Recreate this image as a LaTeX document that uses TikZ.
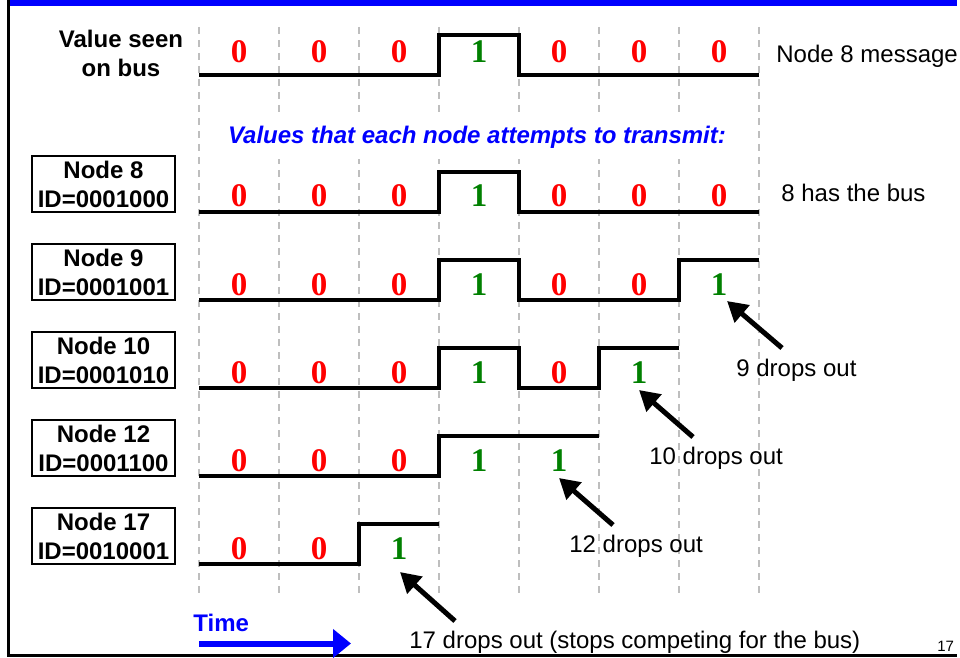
\documentclass[tikz,border=0pt]{standalone}
\usepackage{fontspec}
\setmainfont{Liberation Sans}
\newfontfamily\bitfont{Liberation Serif}
\usepackage{tikz}
\usetikzlibrary{positioning,arrows.meta}
\definecolor{bitgreen}{RGB}{0,128,0}
\definecolor{slotgray}{RGB}{190,190,190}

\tikzset{
  bitzero/.style={anchor=base, inner sep=0pt, text=red, font=\bitfont\bfseries\fontsize{16.5}{18}\selectfont},
  bitone/.style={bitzero, text=bitgreen},
  idbox/.style={draw, line width=1.3pt, minimum width=71.5pt, minimum height=28pt, inner sep=0pt, align=center, font=\bfseries\fontsize{12}{14.5}\selectfont},
  wave/.style={line width=1.8pt},
  slot/.style={slotgray, line width=1.3pt, dash pattern=on 3.5pt off 3pt},
  note/.style={anchor=base west, inner sep=0pt, font=\fontsize{12}{14.5}\selectfont},
  drop/.style={->, line width=2.5pt}
}

\begin{document}
\begin{tikzpicture}[x=0.5pt, y=-0.5pt, >={Triangle[length=10pt,width=11pt]}, node distance=14.7pt]
  \useasboundingbox (0,0) rectangle (960,658);
  \fill[blue] (9,0) rectangle (957,6);
  \draw[line width=1.3pt] (8.7,0) -- (8.7,655.5) -- (957,655.5);

  % bit slots
  \draw[slot] (199,27) -- (199,595);
  \draw[slot] (279,27) -- (279,595);
  \draw[slot] (359,27) -- (359,595);
  \draw[slot] (439,27) -- (439,595);
  \draw[slot] (519,27) -- (519,595);
  \draw[slot] (599,27) -- (599,595);
  \draw[slot] (679,27) -- (679,595);
  \draw[slot] (759,27) -- (759,595);

  % the bus
  \node[align=center, inner sep=0pt, font=\bfseries\fontsize{12}{14.5}\selectfont] (bus) at (121,53) {Value seen\\on bus};
  \draw[wave] (199,75) -- (439,75) -- (439,35) -- (519,35) -- (519,75) -- (759,75);
  \node[bitzero] (b_1) at (239,63) {0};
  \node[bitzero] (b_2) at (319,63) {0};
  \node[bitzero] (b_3) at (399,63) {0};
  \node[bitone]  (b_4) at (479,63) {1};
  \node[bitzero] (b_5) at (559,63) {0};
  \node[bitzero] (b_6) at (639,63) {0};
  \node[bitzero] (b_7) at (719,63) {0};
  \node[note] (msg) at (776,63) {Node 8 message};

  \node[anchor=base, fill=white, inner xsep=4pt, inner ysep=5pt, text=blue, font=\bfseries\itshape\fontsize{12}{14.5}\selectfont] (attempt) at (477,144) {Values that each node attempts to transmit:};

  % contending nodes
  \node[idbox] (node_8) at (103.5,184) {Node 8\\ID=0001000};
  \node[idbox] (node_9) [below=of node_8] {Node 9\\ID=0001001};
  \node[idbox] (node_10) [below=of node_9] {Node 10\\ID=0001010};
  \node[idbox] (node_12) [below=of node_10] {Node 12\\ID=0001100};
  \node[idbox] (node_17) [below=of node_12] {Node 17\\ID=0010001};

  \draw[wave] (199,212) -- (439,212) -- (439,172) -- (519,172) -- (519,212) -- (759,212);
  \node[bitzero] (n8_1) at (239,207) {0};
  \node[bitzero] (n8_2) at (319,207) {0};
  \node[bitzero] (n8_3) at (399,207) {0};
  \node[bitone]  (n8_4) at (479,207) {1};
  \node[bitzero] (n8_5) at (559,207) {0};
  \node[bitzero] (n8_6) at (639,207) {0};
  \node[bitzero] (n8_7) at (719,207) {0};
  \node[note] (winner) at (781,202) {8 has the bus};

  \draw[wave] (199,300) -- (439,300) -- (439,260) -- (519,260) -- (519,300) -- (679,300) -- (679,260) -- (759,260);
  \node[bitzero] (n9_1) at (239,295) {0};
  \node[bitzero] (n9_2) at (319,295) {0};
  \node[bitzero] (n9_3) at (399,295) {0};
  \node[bitone]  (n9_4) at (479,295) {1};
  \node[bitzero] (n9_5) at (559,295) {0};
  \node[bitzero] (n9_6) at (639,295) {0};
  \node[bitone]  (n9_7) at (719,295) {1};

  \draw[wave] (199,388) -- (439,388) -- (439,348) -- (519,348) -- (519,388) -- (599,388) -- (599,348) -- (679,348);
  \node[bitzero] (n10_1) at (239,383) {0};
  \node[bitzero] (n10_2) at (319,383) {0};
  \node[bitzero] (n10_3) at (399,383) {0};
  \node[bitone]  (n10_4) at (479,383) {1};
  \node[bitzero] (n10_5) at (559,383) {0};
  \node[bitone]  (n10_6) at (639,383) {1};

  \draw[wave] (199,476) -- (439,476) -- (439,436) -- (599,436);
  \node[bitzero] (n12_1) at (239,471) {0};
  \node[bitzero] (n12_2) at (319,471) {0};
  \node[bitzero] (n12_3) at (399,471) {0};
  \node[bitone]  (n12_4) at (479,471) {1};
  \node[bitone]  (n12_5) at (559,471) {1};

  \draw[wave] (199,564) -- (359,564) -- (359,524) -- (439,524);
  \node[bitzero] (n17_1) at (239,559) {0};
  \node[bitzero] (n17_2) at (319,559) {0};
  \node[bitone]  (n17_3) at (399,559) {1};

  % who loses arbitration
  \node[note] (out9) at (736,377) {9 drops out};
  \node[note] (out10) at (649,464) {10 drops out};
  \node[note] (out12) at (569,552) {12 drops out};
  \node[note] (out17) at (409,648) {17 drops out (stops competing for the bus)};
  \coordinate (tail9) at (782,348);   \coordinate (tip9) at (727,301);
  \coordinate (tail10) at (693,437);  \coordinate (tip10) at (639,390);
  \coordinate (tail12) at (613,525);  \coordinate (tip12) at (559,478);
  \coordinate (tail17) at (455,621);  \coordinate (tip17) at (400,572);
  \draw[drop] (tail9) -- (tip9);
  \draw[drop] (tail10) -- (tip10);
  \draw[drop] (tail12) -- (tip12);
  \draw[drop] (tail17) -- (tip17);

  % time axis
  \node[anchor=base west, inner sep=0pt, text=blue, font=\bfseries\fontsize{12}{14.5}\selectfont] (time) at (193,631) {Time};
  \coordinate (time_start) at (199,643.5);
  \coordinate (time_end) at (351,643.5);
  \draw[blue, line width=3pt, -{Triangle[length=9pt,width=14pt]}] (time_start) -- (time_end);

  \node[note, font=\fontsize{7.5}{9}\selectfont] (page) at (937,651) {17};
\end{tikzpicture}
\end{document}
